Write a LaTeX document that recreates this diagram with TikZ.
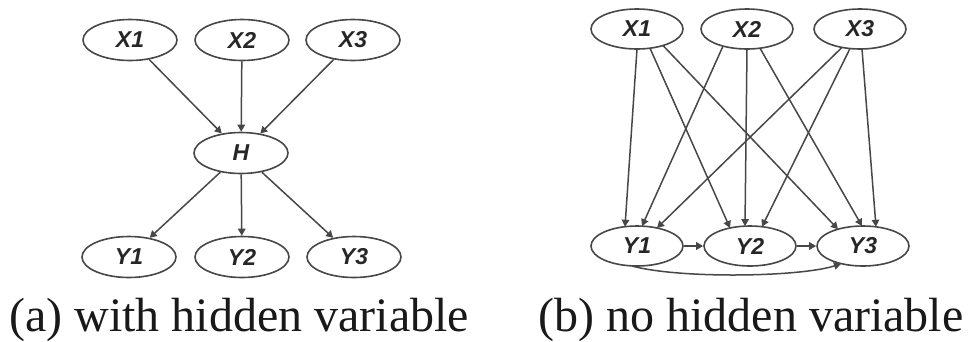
\documentclass[tikz,border=0pt]{standalone}
\usepackage{fontspec}
\setmainfont{Liberation Serif}
\setsansfont{Liberation Sans}
\usetikzlibrary{shapes.geometric,arrows.meta,calc}
\tikzset{
  var/.style={ellipse, draw=black!72, line width=1.6pt, minimum width=94pt, minimum height=41pt, inner sep=0pt,
    font=\sffamily\bfseries\itshape\fontsize{23}{23}\selectfont, text=black!85},
  edge/.style={draw=black!72, line width=1.5pt, -{Triangle[length=7pt,width=7.5pt]}},
  captext/.style={anchor=base, inner sep=0pt, text=black!90, font=\fontsize{48}{48}\selectfont}
}
\begin{document}
\begin{tikzpicture}[x=1pt,y=-1pt]
\useasboundingbox (0,0) rectangle (971,341);
% (a)
\node[var] (ax1) at (130,40) {X1};
\node[var] (ax2) at (242,40) {X2};
\node[var] (ax3) at (353,40) {X3};
\node[var] (ah) at (241,153) {H};
\node[var] (ay1) at (129,257) {Y1};
\node[var] (ay2) at (242,257) {Y2};
\node[var] (ay3) at (354,257) {Y3};
\draw[edge] (ax1) -- (ah);
\draw[edge] (ax2) -- (ah);
\draw[edge] (ax3) -- (ah);
\draw[edge] (ah) -- (ay1);
\draw[edge] (ah) -- (ay2);
\draw[edge] (ah) -- (ay3);
% (b)
\node[var, minimum width=92pt, minimum height=40pt] (bx1) at (637,29) {X1};
\node[var, minimum width=92pt, minimum height=40pt] (bx2) at (747,29) {X2};
\node[var, minimum width=92pt, minimum height=40pt] (bx3) at (860,29) {X3};
\node[var, minimum width=92pt, minimum height=40pt] (by1) at (637,246) {Y1};
\node[var, minimum width=92pt, minimum height=40pt] (by2) at (750,246) {Y2};
\node[var, minimum width=92pt, minimum height=40pt] (by3) at (863,246) {Y3};
\draw[edge] ($(bx1.center)+(0,20)$) -- ($(by1.center)+(-12,-19.3)$);
\draw[edge] ($(bx1.center)+(13,19.2)$) -- ($(by2.center)+(-20,-18)$);
\draw[edge] ($(bx1.center)+(26,16.5)$) -- ($(by3.center)+(-25,-16.8)$);
\draw[edge] ($(bx2.center)+(-24,17.1)$) -- ($(by1.center)+(5,-19.9)$);
\draw[edge] ($(bx2.center)+(0,20)$) -- ($(by2.center)+(-5,-19.9)$);
\draw[edge] ($(bx2.center)+(13,19.2)$) -- ($(by3.center)+(-1,-20)$);
\draw[edge] ($(bx3.center)+(-18,18.4)$) -- ($(by1.center)+(20,-18)$);
\draw[edge] ($(bx3.center)+(-10,19.5)$) -- ($(by2.center)+(12,-19.3)$);
\draw[edge] ($(bx3.center)+(2,20)$) -- ($(by3.center)+(13,-19.2)$);
\draw[edge] (by1) -- (by2);
\draw[edge] (by2) -- (by3);
\draw[edge] ($(by1.center)+(-5,20)$) .. controls (680,279) and (800,277) .. ($(by3.center)+(-22,17.8)$);
% captions
\node[captext] (capa) at (239,331) {(a) with hidden variable};
\node[captext] (capb) at (751,331) {(b) no hidden variable};
\end{tikzpicture}
\end{document}
